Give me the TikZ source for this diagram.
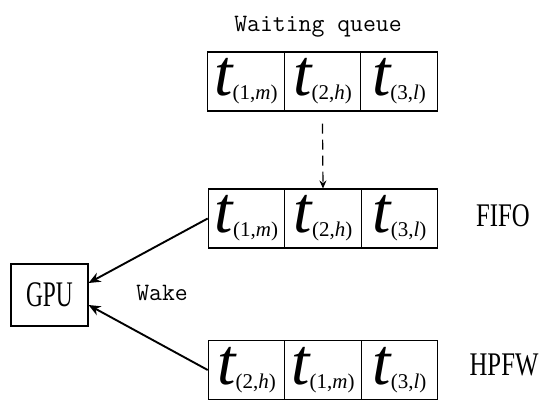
\documentclass[tikz,border=0pt]{standalone}
\usepackage{fontspec}
\setmainfont{Liberation Serif}
\newfontfamily\condserif[FakeStretch=0.75]{Liberation Serif}
\newfontfamily\gpuserif[FakeStretch=0.65]{Liberation Serif}
\usetikzlibrary{arrows.meta,calc}
\newcommand{\tsub}[2]{{\fontsize{66}{66}\selectfont\itshape t}\raisebox{-4pt}{\fontsize{21}{21}\selectfont(#1,\textit{#2})}}
\newcommand{\monotext}{\ttfamily\fontsize{25}{25}\selectfont\addfontfeatures{FakeBold=1.5}}
\tikzset{
  cell/.style={draw, line width=1.1pt, minimum width=76.5pt, minimum height=59pt, inner sep=0pt, anchor=center},
  lab/.style={font=\condserif\fontsize{33}{33}\selectfont, inner sep=0pt},
  mono/.style={font=\monotext, inner sep=0pt},
  conn/.style={line width=1.9pt, -{Stealth[length=12pt,width=10pt]}},
}
\begin{document}
\begin{tikzpicture}[x=1pt,y=-1pt]
\useasboundingbox (0,0) rectangle (539,402);
% waiting queue
\node[mono, anchor=base] (wq) at (318,31) {Waiting queue};
\node[cell] (w1) at (246,81.5) {\tsub{1}{m}};
\node[cell] (w2) at (322.5,81.5) {\tsub{2}{h}};
\node[cell] (w3) at (399,81.5) {\tsub{3}{l}};
% FIFO
\node[cell] (f1) at (246.5,218.5) {\tsub{1}{m}};
\node[cell] (f2) at (323,218.5) {\tsub{2}{h}};
\node[cell] (f3) at (399.5,218.5) {\tsub{3}{l}};
\node[lab] (fifo) at (503,216) {FIFO};
% HPFW
\node[cell] (h1) at (246.5,370) {\tsub{2}{h}};
\node[cell] (h2) at (323,370) {\tsub{1}{m}};
\node[cell] (h3) at (399.5,370) {\tsub{3}{l}};
\node[lab] (hpfw) at (504,365) {HPFW};
% GPU
\node[draw, line width=1.1pt, minimum width=77pt, minimum height=62pt, inner sep=0pt,
      font=\gpuserif\fontsize{36}{36}\selectfont] (gpu) at (49.5,295) {GPU};
\node[mono] (wake) at (162,293) {Wake};
% connectors
\coordinate (dstart) at ($(w2.south)+(0,12)$);
\draw[line width=1.2pt, dash pattern=on 10pt off 6pt, -{Stealth[length=8pt,width=7pt]}] (dstart) -- (f2.north);
\draw[conn] (f1.west) -- ([yshift=12pt]gpu.east);
\draw[conn] (h1.west) -- ([yshift=-10pt]gpu.east);
\end{tikzpicture}
\end{document}
